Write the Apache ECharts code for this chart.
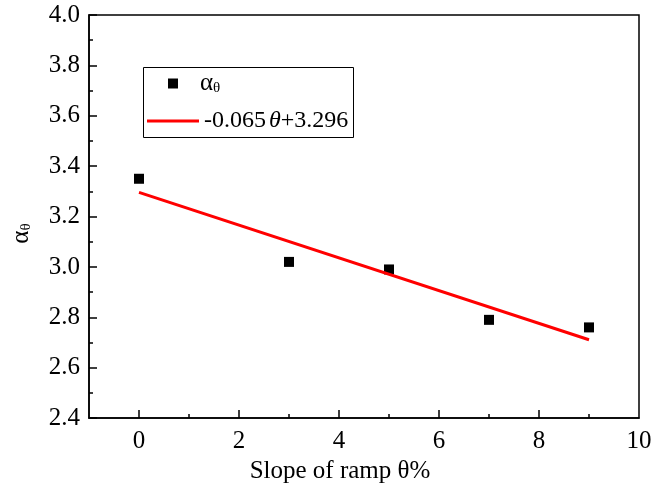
<!DOCTYPE html>
<html>
<head>
<meta charset="utf-8">
<script src="https://cdn.jsdelivr.net/npm/echarts@6/dist/echarts.min.js"></script>
<style>
  html, body { margin: 0; padding: 0; background: #fff; }
  #chart { width: 670px; height: 489px; }
</style>
</head>
<body>
<div id="chart"></div>
<script>
// Measured alpha coefficient against ramp slope
const slopes = [0, 3, 5, 7, 9];
const alphaValues = [3.35, 3.02, 2.99, 2.79, 2.76];

// Linear fit: alpha = slope * theta + intercept
const fitCoef = [-0.065, 3.296];
const fitRange = [0, 9];

// Axis tick values
const xMajorTicks = [0, 2, 4, 6, 8, 10];
const xMajorTickMarks = [0, 2, 4, 6, 8];
const xMinorTicks = [1, 3, 5, 7, 9];

const seriesNames = ['αθ', '-0.065θ+3.296'];

const FONT = 'Liberation Serif';
const BLACK = '#000';
const RED = '#ff0000';

const chart = echarts.init(document.getElementById('chart'), null, { renderer: 'canvas' });

const fitData = fitRange.map(x => [x, +(fitCoef[0] * x + fitCoef[1]).toFixed(4)]);
const scatterData = slopes.map((x, i) => [x, alphaValues[i]]);

const axisLineStyle = { color: BLACK, width: 1.5 };
const tickText = { fontSize: 25, color: BLACK, fontFamily: FONT };

chart.setOption({
  animation: false,
  backgroundColor: '#fff',
  textStyle: { fontFamily: FONT, color: BLACK },
  grid: {
    left: 89, right: 31, top: 15, bottom: 70,
    show: true, borderColor: BLACK, borderWidth: 1.5, backgroundColor: 'transparent'
  },
  xAxis: [
    {
      type: 'value', min: -1, max: 10, position: 'bottom',
      axisLine: { show: true, onZero: false, lineStyle: axisLineStyle },
      axisTick: { show: true, inside: true, length: 8, customValues: xMajorTickMarks, lineStyle: axisLineStyle },
      axisLabel: Object.assign({ customValues: xMajorTicks, margin: 11 }, tickText),
      splitLine: { show: false },
      name: 'Slope of ramp θ%',
      nameLocation: 'middle',
      nameGap: 37,
      nameTextStyle: { fontSize: 25, color: BLACK, fontFamily: FONT, padding: [0, 48, 0, 0] }
    },
    {
      type: 'value', min: -1, max: 10, position: 'bottom',
      axisLine: { show: false, onZero: false },
      axisTick: { show: true, inside: true, length: 4, customValues: xMinorTicks, lineStyle: axisLineStyle },
      axisLabel: { show: false },
      splitLine: { show: false }
    }
  ],
  yAxis: {
    type: 'value', min: 2.4, max: 4.0, interval: 0.2,
    axisLine: { show: true, onZero: false, lineStyle: axisLineStyle },
    axisTick: { show: true, inside: true, length: 8, lineStyle: axisLineStyle },
    minorTick: { show: true, splitNumber: 2, length: 4, lineStyle: axisLineStyle },
    axisLabel: Object.assign({ margin: 9, formatter: v => v.toFixed(1) }, tickText),
    splitLine: { show: false },
    name: '{a|α}{s|θ}',
    nameLocation: 'middle',
    nameRotate: 90,
    nameGap: 55,
    nameTextStyle: {
      color: BLACK, fontFamily: FONT, padding: [0, 34, 0, 0],
      rich: {
        a: { fontSize: 25, fontFamily: FONT, color: BLACK },
        s: { fontSize: 15, fontFamily: FONT, color: BLACK, verticalAlign: 'bottom', padding: [6, 0, 0, 0] }
      }
    }
  },
  legend: [
    {
      data: [{ name: seriesNames[0], icon: 'rect' }],
      left: 168, top: 71, padding: 0,
      itemWidth: 10, itemHeight: 10,
      formatter: () => '{a|α}{s|θ}',
      textStyle: {
        color: BLACK, fontFamily: FONT,
        rich: {
          a: { fontSize: 25, fontFamily: FONT, color: BLACK, padding: [0, 0, 0, 17] },
          s: { fontSize: 15, fontFamily: FONT, color: BLACK, verticalAlign: 'bottom', padding: [6, 0, 0, 0] }
        }
      }
    },
    {
      data: [{ name: seriesNames[1], icon: 'rect', itemStyle: { color: RED } }],
      left: 147, top: 109, padding: 0,
      itemWidth: 52, itemHeight: 3,
      formatter: () => '{n|-0.065}{t|θ}{n|+3.296}',
      textStyle: {
        color: BLACK, fontFamily: FONT,
        rich: {
          n: { fontSize: 24, fontFamily: FONT, color: BLACK },
          t: { fontSize: 24, fontFamily: FONT, color: BLACK, fontStyle: 'italic', padding: [0, 0, 0, 3] }
        }
      }
    }
  ],
  graphic: [
    {
      type: 'rect', z: 100,
      shape: { x: 143.5, y: 67.5, width: 210, height: 70 },
      style: { fill: 'none', stroke: BLACK, lineWidth: 1 }
    }
  ],
  series: [
    {
      name: seriesNames[0],
      type: 'scatter',
      symbol: 'rect',
      symbolSize: 10,
      itemStyle: { color: BLACK, opacity: 1 },
      data: scatterData
    },
    {
      name: seriesNames[1],
      type: 'line',
      symbol: 'none',
      showSymbol: false,
      lineStyle: { color: RED, width: 3 },
      itemStyle: { color: RED },
      data: fitData
    }
  ]
});
</script>
</body>
</html>
